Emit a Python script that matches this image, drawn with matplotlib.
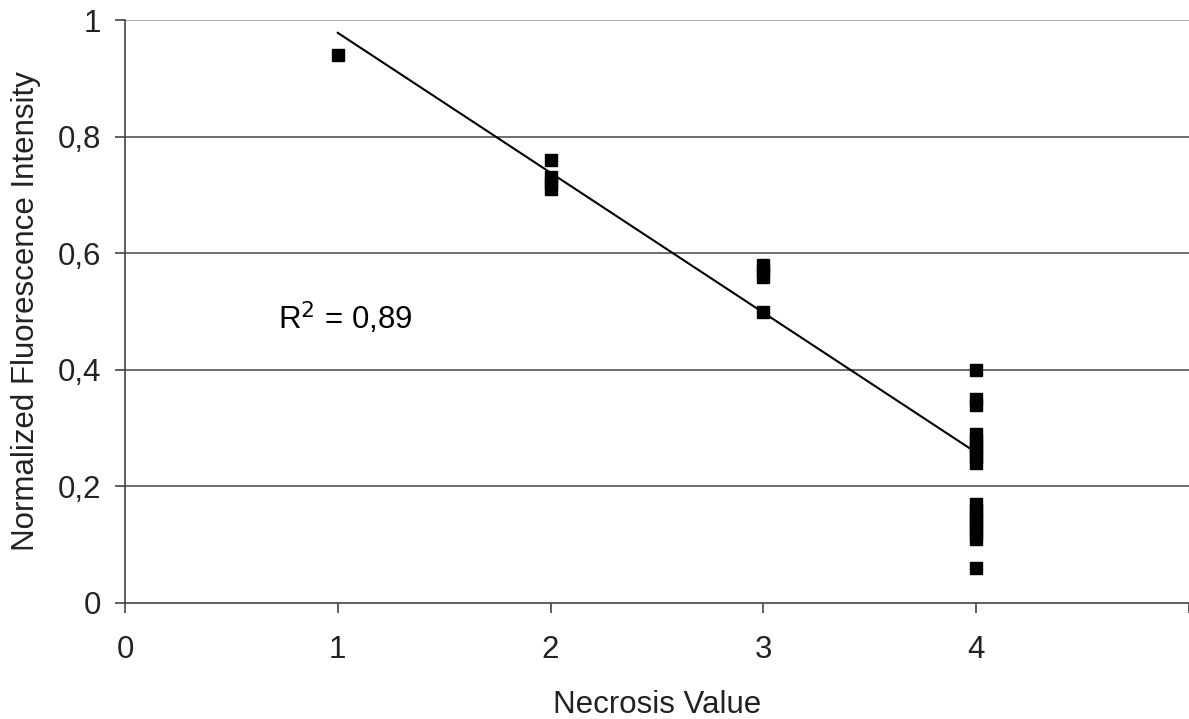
import numpy as np
import matplotlib
matplotlib.use("Agg")
import matplotlib.pyplot as plt
import matplotlib.ticker as ticker

# ── Data ────────────────────────────────────────────────────────────────────
necrosis = [1,
            2, 2, 2, 2,
            3, 3, 3, 3,
            4, 4, 4, 4, 4, 4, 4, 4, 4, 4, 4, 4, 4, 4, 4, 4, 4]
intensity = [0.94,
             0.76, 0.73, 0.72, 0.71,
             0.58, 0.57, 0.56, 0.50,
             0.40, 0.35, 0.34, 0.29, 0.28, 0.27, 0.26, 0.25, 0.24,
             0.17, 0.16, 0.15, 0.14, 0.13, 0.12, 0.11, 0.06]

trend_slope = -0.24
trend_intercept = 1.218
trend_range = [1, 4]
r_squared = "0,89"

x_ticks = [0, 1, 2, 3, 4]
y_ticks = [0, 0.2, 0.4, 0.6, 0.8, 1.0]

FS = 22.5

plt.rcParams.update({
    "font.family": ["Liberation Sans", "DejaVu Sans"],
    "font.size": FS,
})


def comma_fmt(v, pos):
    s = f"{v:g}"
    return s.replace(".", ",")


fig = plt.figure(figsize=(11.89, 7.19), dpi=100)
ax = fig.add_axes([125 / 1189, 1 - 603 / 719, 1064 / 1189, 583 / 719])

# horizontal gridlines
for yv in y_ticks[1:]:
    ax.axhline(yv, color="#555555" if yv < 1 else "#999999", lw=1.2, zorder=1)

ax.plot(necrosis, intensity, "s", color="black", ms=8.8, mec="black", zorder=3)

tx = np.array(trend_range, dtype=float)
ax.plot(tx, trend_intercept + trend_slope * tx, color="black", lw=1.5, zorder=2)

ax.text(0.72, 0.488, f"R$^2$ = {r_squared}", ha="left", va="center", fontsize=FS)

ax.set_xlim(0, 5)
ax.set_ylim(0, 1)
ax.set_xticks(x_ticks + [5])
ax.set_xticklabels([str(v) for v in x_ticks] + [""])
ax.set_yticks(y_ticks)
ax.yaxis.set_major_formatter(ticker.FuncFormatter(comma_fmt))

for side in ["top", "right"]:
    ax.spines[side].set_visible(False)
for side in ["left", "bottom"]:
    ax.spines[side].set_color("#444444")
    ax.spines[side].set_linewidth(1.2)
ax.tick_params(axis="both", direction="out", length=7, width=1.2, color="#444444",
               labelsize=FS, labelcolor="#222222")
ax.tick_params(axis="x", pad=16)
ax.tick_params(axis="y", pad=10)

ax.set_xlabel("Necrosis Value", fontsize=FS, color="#222222", labelpad=18)
ax.set_ylabel("Normalized Fluorescence Intensity", fontsize=FS, color="#222222", labelpad=12)

fig.savefig("out.png", dpi=100)
